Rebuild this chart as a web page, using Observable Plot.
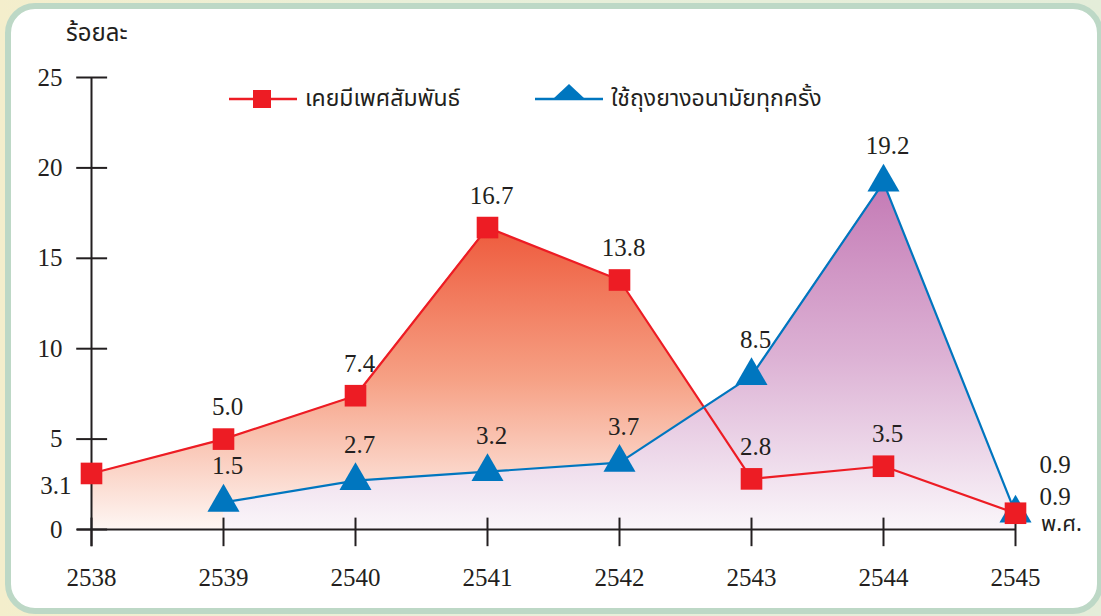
<!DOCTYPE html>
<html>
<head>
<meta charset="utf-8">
<script src="https://cdn.jsdelivr.net/npm/d3@7"></script>
<script src="https://cdn.jsdelivr.net/npm/@observablehq/plot@0.6"></script>
<style>
  html, body { margin: 0; padding: 0; }
  body {
    width: 1101px; height: 616px; position: relative; overflow: hidden;
    background: linear-gradient(to right, #f4eecc 0%, #e8efd9 40%, #e4edd9 100%);
  }
  #panel {
    position: absolute; left: 5px; top: 3px; width: 1098px; height: 611px;
    box-sizing: border-box; border: 6px solid #bdd8c6; border-radius: 30px; background: #fff;
  }
  #chart { position: absolute; left: 0; top: 0; }
  .thai { font-family: "Noto Sans Thai", "Noto Sans", "DejaVu Sans", sans-serif; color: #231f20; }
  #ytitle { position: absolute; left: 66px; top: 22px; font-size: 24px; line-height: 1; }
  .leg { position: absolute; top: 82px; height: 34px; display: flex; align-items: center; font-size: 23px; }
  .leg svg { margin-right: 8px; }
  #xunit { position: absolute; left: 1041px; top: 514px; font-size: 22px; line-height: 1; }
</style>
</head>
<body>
<div id="panel"></div>
<svg width="0" height="0" style="position:absolute">
  <defs>
    <linearGradient id="gRed" x1="0" y1="0" x2="0" y2="1">
      <stop offset="0" stop-color="#ee5a3c"/>
      <stop offset="0.5" stop-color="#f6a084"/>
      <stop offset="1" stop-color="#fef6f3"/>
    </linearGradient>
    <linearGradient id="gBlue" x1="0" y1="0" x2="0" y2="1">
      <stop offset="0" stop-color="#c47ab5"/>
      <stop offset="0.5" stop-color="#dcb1d4"/>
      <stop offset="1" stop-color="#faf6fa"/>
    </linearGradient>
  </defs>
</svg>
<div id="chart"></div>
<div id="ytitle" class="thai">ร้อยละ</div>
<div id="legRed" class="leg thai" style="left:229px"></div>
<div id="legBlue" class="leg thai" style="left:535px"></div>
<div id="xunit" class="thai">พ.ศ.</div>
<script>
// ---- data ----
const years = [2538, 2539, 2540, 2541, 2542, 2543, 2544, 2545];
const sexValues = [3.1, 5.0, 7.4, 16.7, 13.8, 2.8, 3.5, 0.9];
const condomYears = [2539, 2540, 2541, 2542, 2543, 2544, 2545];
const condomValues = [1.5, 2.7, 3.2, 3.7, 8.5, 19.2, 0.9];
const yTicks = [0, 5, 10, 15, 20, 25];
const seriesNames = ["เคยมีเพศสัมพันธ์", "ใช้ถุงยางอนามัยทุกครั้ง"];
const yTitle = "ร้อยละ";
const xTitle = "พ.ศ.";

// ---- build ----
const RED = "#ed1c24", BLUE = "#0076bf", INK = "#231f20";
const SERIF = "'Liberation Serif', 'Times New Roman', Tinos, serif";
const red = years.map((x, i) => ({x, y: sexValues[i], label: sexValues[i].toFixed(1)}));
const blue = condomYears.map((x, i) => ({x, y: condomValues[i], label: condomValues[i].toFixed(1)}));
const x0 = years[0], xN = years[years.length - 1];
const T = {fill: INK, fontSize: 25};

const chart = Plot.plot({
  width: 1101, height: 616,
  marginLeft: 91, marginRight: 86, marginTop: 77, marginBottom: 87,
  x: {domain: [x0, xN], axis: null},
  y: {domain: [0, 25], axis: null},
  style: {background: "transparent", color: INK, overflow: "visible"},
  marks: [
    Plot.areaY(red, {x: "x", y: "y", fill: "url(#gRed)"}),
    Plot.areaY(blue, {x: "x", y: "y", fill: "url(#gBlue)"}),
    // axes
    Plot.ruleX([x0], {y1: -0.95, y2: 25, stroke: INK, strokeWidth: 2}),
    Plot.ruleY([0], {x1: x0 - 0.106, x2: xN, stroke: INK, strokeWidth: 2}),
    Plot.ruleY(yTicks, {y: d => d, x1: x0 - 0.112, x2: x0 + 0.122, stroke: INK, strokeWidth: 2}),
    Plot.ruleX(years, {x: d => d, y1: -0.95, y2: 0.63, stroke: INK, strokeWidth: 2}),
    Plot.text(yTicks, {x: x0, y: d => d, text: d => String(d), textAnchor: "end", dx: -29, ...T}),
    Plot.text(years, {x: d => d, y: 0, text: d => String(d), dy: 48, ...T}),
    // lines
    Plot.line(red, {x: "x", y: "y", stroke: RED, strokeWidth: 2.2}),
    Plot.line(blue, {x: "x", y: "y", stroke: BLUE, strokeWidth: 2.2}),
    Plot.dot(blue, {x: "x", y: "y", symbol: "triangle", r: 11.9, fill: BLUE, stroke: "none"}),
    Plot.dot(red, {x: "x", y: "y", symbol: "square", r: 12.2, fill: RED, stroke: "none"}),
    // value labels
    Plot.text(red.slice(1, -1), {x: "x", y: "y", text: "label", dy: -32, dx: 4, ...T}),
    Plot.text(red.slice(0, 1), {x: "x", y: "y", text: "label", dy: 13, dx: -20, textAnchor: "end", ...T}),
    Plot.text(red.slice(-1), {x: "x", y: "y", text: "label", dy: -16, dx: 24, textAnchor: "start", ...T}),
    Plot.text(blue.slice(0, -1), {x: "x", y: "y", text: "label", dy: -36, dx: 4, ...T}),
    Plot.text(blue.slice(-1), {x: "x", y: "y", text: "label", dy: -48, dx: 24, textAnchor: "start", ...T})
  ]
});
// apply serif face to every text element directly
d3.select(chart).attr("font-family", SERIF).style("font-family", SERIF);
d3.select(chart).selectAll("g[aria-label=text]").attr("font-family", SERIF).style("font-family", SERIF);
d3.select(chart).selectAll("text").style("font-family", SERIF);
document.getElementById("chart").appendChild(chart);

// legend
function swatch(color, symbol) {
  const s = d3.create("svg").attr("width", 68).attr("height", 34);
  s.append("line").attr("x1", 0).attr("x2", 68).attr("y1", 17).attr("y2", 17)
    .attr("stroke", color).attr("stroke-width", 2.5);
  if (symbol === "square") {
    s.append("rect").attr("x", 24).attr("y", 8).attr("width", 18).attr("height", 18).attr("fill", color);
  } else {
    s.append("path").attr("d", "M18,17 L34,2 L50,17 Z").attr("fill", color);
  }
  return s.node();
}
const lr = document.getElementById("legRed");
lr.appendChild(swatch(RED, "square"));
lr.appendChild(document.createTextNode(seriesNames[0]));
const lb = document.getElementById("legBlue");
lb.appendChild(swatch(BLUE, "triangle"));
lb.appendChild(document.createTextNode(seriesNames[1]));
document.getElementById("ytitle").textContent = yTitle;
document.getElementById("xunit").textContent = xTitle;
</script>
</body>
</html>
